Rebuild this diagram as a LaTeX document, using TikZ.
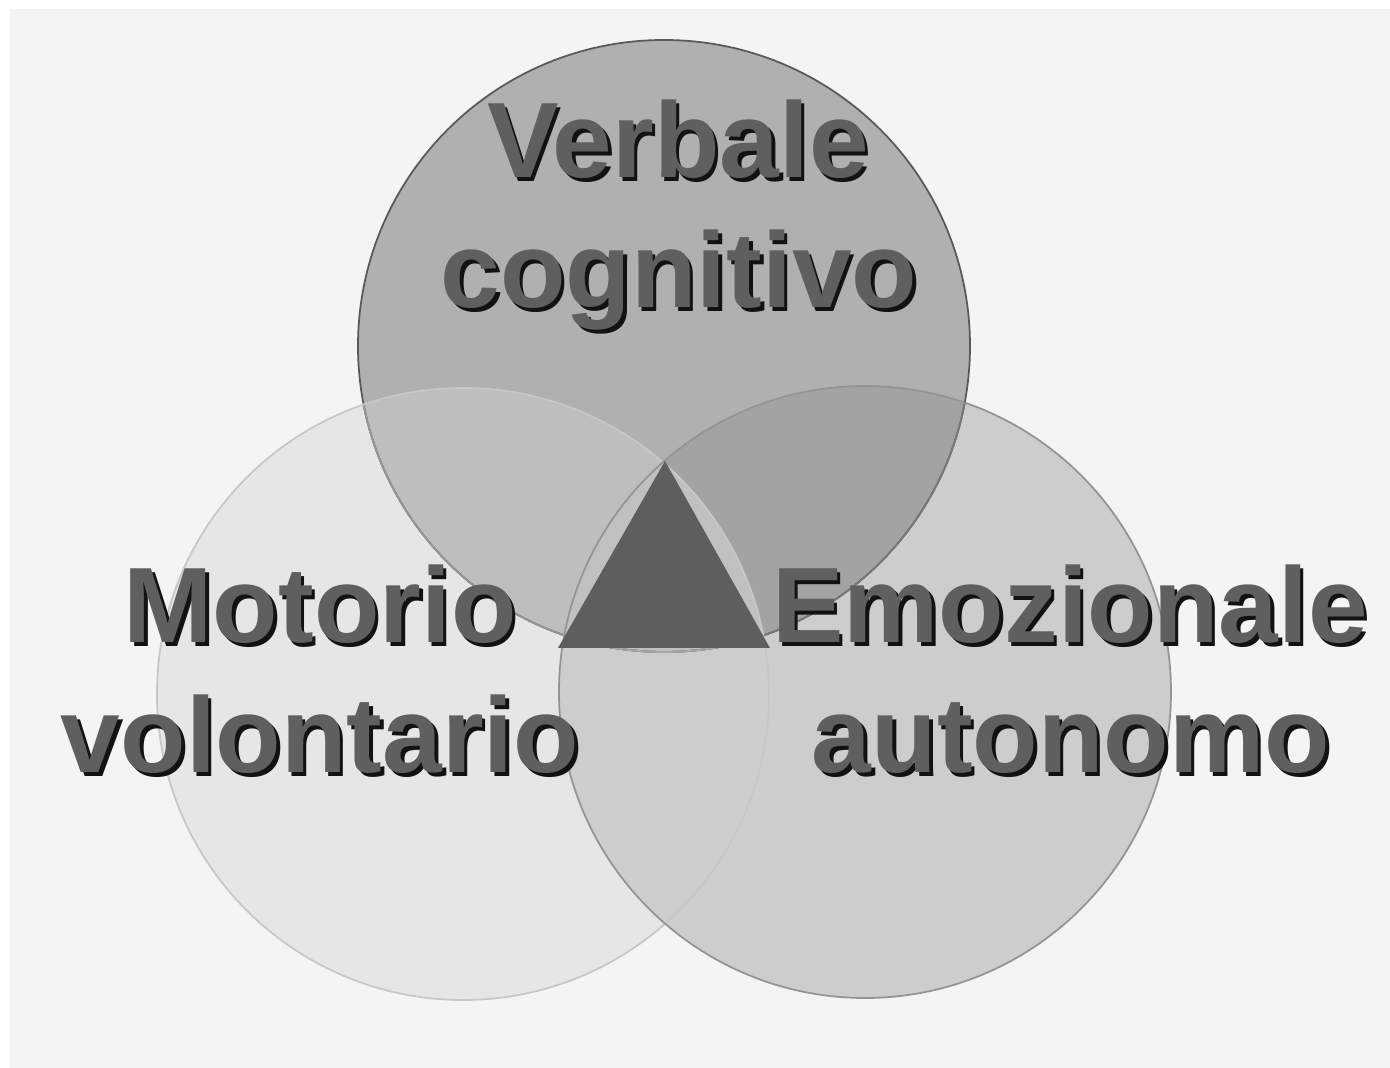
\documentclass[tikz,border=0pt]{standalone}
\usepackage{fontspec}
\setmainfont{Liberation Sans}
\definecolor{bgcol}{HTML}{F4F4F4}
\definecolor{topcol}{HTML}{B0B0B0}
\definecolor{leftcol}{HTML}{E6E6E6}
\definecolor{rightcol}{HTML}{CDCDCD}
\definecolor{tlcol}{HTML}{BEBEBE}
\definecolor{trcol}{HTML}{A3A3A3}
\definecolor{allcol}{HTML}{C0C0C0}
\definecolor{corecol}{HTML}{5E5E5E}
\definecolor{txtcol}{HTML}{5F5F5F}

\begin{document}
\begin{tikzpicture}[
    lbl/.style={font=\fontsize{30.5}{37}\selectfont\bfseries, text=txtcol, anchor=base, inner sep=0pt},
    shd/.style={lbl, text=black!93, xshift=0.35mm, yshift=-0.35mm},
    rim/.style={line width=0.5pt}]
  \useasboundingbox (0,0) rectangle (13.9,10.68);
  \fill[bgcol] (0.1,0) rectangle (13.9,10.59);
  \coordinate (T) at (6.64,7.22);
  \coordinate (L) at (4.63,3.74);
  \coordinate (R) at (8.65,3.76);
  \def\rad{3.06}
  \fill[topcol] (T) circle (\rad);
  \fill[leftcol] (L) circle (\rad);
  \fill[rightcol] (R) circle (\rad);
  \begin{scope}
    \clip (T) circle (\rad);
    \fill[tlcol] (L) circle (\rad);
    \fill[trcol] (R) circle (\rad);
    \clip (L) circle (\rad);
    \fill[allcol] (R) circle (\rad);
  \end{scope}
  \draw[rim, color=black!65] (T) circle (\rad);
  \begin{scope}
    \clip (R) circle (\rad);
    \draw[rim, color=black!53] (T) circle (\rad);
  \end{scope}
  \begin{scope}
    \clip (L) circle (\rad);
    \draw[rim, color=black!41] (T) circle (\rad);
    \clip (R) circle (\rad);
    \draw[rim, color=black!35] (T) circle (\rad);
  \end{scope}
  \draw[rim, color=black!22] (L) circle (\rad);
  \draw[rim, color=black!42] (R) circle (\rad);
  \fill[corecol] (6.65,6.07) -- (5.58,4.20) -- (7.70,4.20) -- cycle;
  \foreach \nm/\x/\y/\txt in {verb/6.78/8.90/Verbale, cogn/6.79/7.60/cognitivo,
      moto/3.20/4.25/Motorio, volo/3.20/2.95/volontario,
      emoz/10.70/4.25/Emozionale, auto/10.71/2.95/autonomo} {
    \node[shd] (\nm-s) at (\x,\y) {\txt};
    \node[lbl] (\nm) at (\x,\y) {\txt};
  }
\end{tikzpicture}
\end{document}
